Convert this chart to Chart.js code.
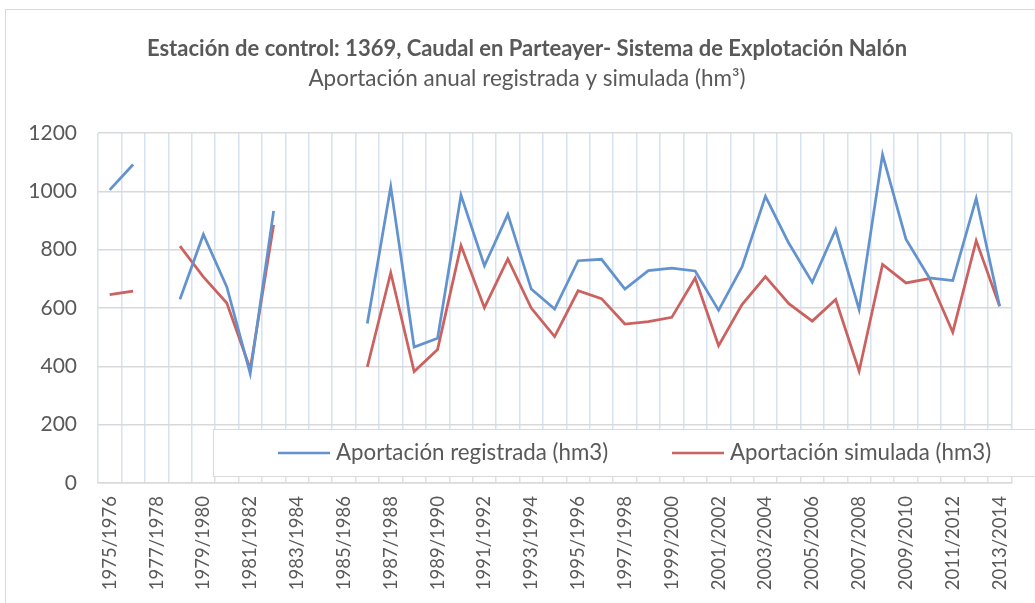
<!DOCTYPE html>
<html>
<head>
<meta charset="utf-8">
<script src="https://cdn.jsdelivr.net/npm/chart.js@4/dist/chart.umd.min.js"></script>
<style>
  body { margin: 0; background: #fff; }
  #wrap { width: 1035px; height: 603px; }
</style>
</head>
<body>
<div id="wrap"><canvas id="grafico" width="1035" height="603"></canvas></div>
<script>
"use strict";

var anios = ["1975/1976", "1976/1977", "1977/1978", "1978/1979", "1979/1980", "1980/1981", "1981/1982",
    "1982/1983", "1983/1984", "1984/1985", "1985/1986", "1986/1987", "1987/1988", "1988/1989", "1989/1990",
    "1990/1991", "1991/1992", "1992/1993", "1993/1994", "1994/1995", "1995/1996", "1996/1997", "1997/1998",
    "1998/1999", "1999/2000", "2000/2001", "2001/2002", "2002/2003", "2003/2004", "2004/2005", "2005/2006",
    "2006/2007", "2007/2008", "2008/2009", "2009/2010", "2010/2011", "2011/2012", "2012/2013", "2013/2014"];

var registrada = [1005, 1092, null, 630, 852, 672, 375, 933, null, null, null, 547, 1016, 466, 496,
    987, 745, 921, 665, 596, 762, 767, 665, 728, 737, 727, 592, 741, 983, 822, 688,
    869, 595, 1126, 836, 703, 694, 976, 606];

var simulada = [646, 658, null, 812, 707, 617, 391, 885, null, null, null, 398, 721, 382, 458,
    814, 601, 768, 600, 502, 659, 632, 545, 553, 568, 703, 471, 612, 708, 615, 555,
    629, 384, 749, 686, 701, 517, 831, 606];

var ticksY = [0, 200, 400, 600, 800, 1000, 1200];

var colorReg = "#6393cf";
var colorSim = "#cb625f";
var gris = "#595959";
var fuente = "Lato, 'Open Sans', sans-serif";

// fondo, borde y titulos
var decoracion = {
    id: "decoracion",
    beforeDraw: function (chart) {
        var ctx = chart.ctx;
        ctx.save();
        ctx.fillStyle = "#fff";
        ctx.fillRect(0, 0, chart.width, chart.height);
        ctx.strokeStyle = "#d9d9d9";
        ctx.lineWidth = 1;
        ctx.strokeRect(5.5, 9.5, 1100, 700);
        ctx.fillStyle = gris;
        ctx.textAlign = "center";
        ctx.textBaseline = "middle";
        ctx.font = "bold 22px " + fuente;
        ctx.fillText("Estación de control: 1369, Caudal en Parteayer- Sistema de Explotación Nalón", 527, 49);
        ctx.font = "22.5px " + fuente;
        ctx.fillText("Aportación anual registrada y simulada (hm³)", 527, 79);
        ctx.restore();
    }
};

// leyenda dentro del area de trazado
var leyenda = {
    id: "leyenda",
    afterDatasetsDraw: function (chart) {
        var ctx = chart.ctx;
        ctx.save();
        ctx.fillStyle = "#fff";
        ctx.fillRect(213, 429, 900, 48);
        ctx.strokeStyle = "#d9d9d9";
        ctx.lineWidth = 1;
        ctx.strokeRect(213.5, 429.5, 900, 47);
        var items = [
            { texto: chart.data.datasets[0].label, color: colorReg, x: 278 },
            { texto: chart.data.datasets[1].label, color: colorSim, x: 672 }
        ];
        ctx.font = "22.3px " + fuente;
        ctx.textBaseline = "middle";
        ctx.textAlign = "left";
        items.forEach(function (it) {
            ctx.strokeStyle = it.color;
            ctx.lineWidth = 2.5;
            ctx.beginPath();
            ctx.moveTo(it.x, 453);
            ctx.lineTo(it.x + 52, 453);
            ctx.stroke();
            ctx.fillStyle = gris;
            ctx.fillText(it.texto, it.x + 58, 453);
        });
        ctx.restore();
    }
};

new Chart(document.getElementById("grafico").getContext("2d"), {
    type: "line",
    data: {
        labels: anios,
        datasets: [{
            label: "Aportación registrada (hm3)",
            data: registrada,
            borderColor: colorReg,
            backgroundColor: colorReg,
            borderWidth: 2.75,
            pointRadius: 0,
            tension: 0,
            spanGaps: false
        }, {
            label: "Aportación simulada (hm3)",
            data: simulada,
            borderColor: colorSim,
            backgroundColor: colorSim,
            borderWidth: 2.75,
            pointRadius: 0,
            tension: 0,
            spanGaps: false
        }]
    },
    options: {
        responsive: false,
        animation: false,
        layout: { padding: { left: 0, top: 133, right: 14, bottom: 0 } },
        plugins: {
            legend: { display: false },
            title: { display: false },
            tooltip: { enabled: false }
        },
        scales: {
            x: {
                offset: true,
                grid: { offset: true, color: "#d6e1f2", lineWidth: 1.5, drawTicks: false },
                border: { color: "#d9d9d9", width: 1.5 },
                ticks: {
                    autoSkip: false,
                    maxRotation: 90,
                    minRotation: 90,
                    padding: 13,
                    color: gris,
                    font: { family: fuente, size: 18.5 },
                    callback: function (valor, i) { return i % 2 === 0 ? anios[i] : ""; }
                },
                afterFit: function (escala) { escala.height = 120; }
            },
            y: {
                min: 0,
                max: 1200,
                afterBuildTicks: function (escala) {
                    escala.ticks = ticksY.map(function (v) { return { value: v }; });
                },
                grid: { color: "#d9d9d9", lineWidth: 1.5, drawTicks: false },
                border: { display: false },
                ticks: {
                    padding: 21,
                    color: gris,
                    font: { family: fuente, size: 21 },
                    callback: function (valor) { return String(valor); }
                },
                afterFit: function (escala) { escala.width = 98; }
            }
        }
    },
    plugins: [decoracion, leyenda]
});
</script>
</body>
</html>
